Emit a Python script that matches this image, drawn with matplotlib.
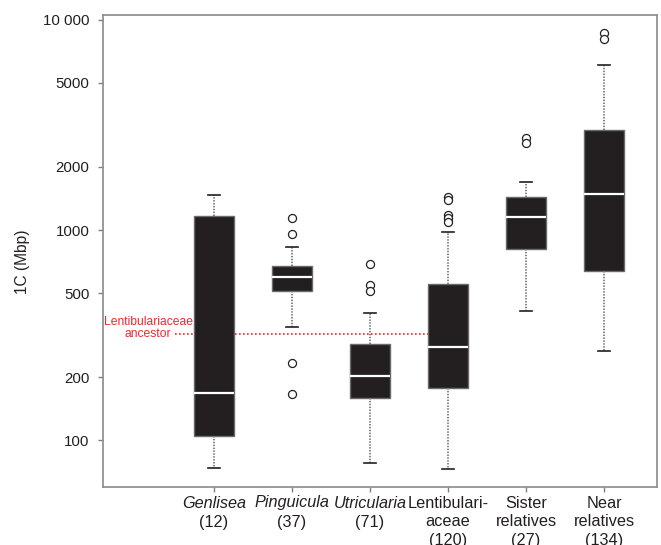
import matplotlib
matplotlib.use("Agg")
import matplotlib.pyplot as plt
from matplotlib.transforms import blended_transform_factory

plt.rcParams['font.family'] = ['Liberation Sans', 'DejaVu Sans']

# ---- data (Mbp) ----
categories = ["Genlisea", "Pinguicula", "Utricularia", "Lentibulariaceae", "Sister relatives", "Near relatives"]
counts = [12, 37, 71, 120, 27, 134]
whisker_low = [74, 345, 78, 73, 413, 267]
q1 = [105, 515, 160, 177, 815, 638]
medians = [168, 596, 202, 279, 1149, 1488]
q3 = [1166, 677, 287, 552, 1440, 2986]
whisker_high = [1466, 828, 402, 975, 1686, 6084]
outliers = [
    [],
    [1136, 954, 233, 167],
    [687, 548, 513],
    [1439, 1389, 1178, 1136, 1095],
    [2728, 2582],
    [8610, 8060],
]
ancestor_value = 319
yticks = [100, 200, 500, 1000, 2000, 5000, 10000]
ytick_labels = ["100", "200", "500", "1000", "2000", "5000", "10 000"]
label_lines = [
    ["Genlisea", "(12)"],
    ["Pinguicula", "(37)"],
    ["Utricularia", "(71)"],
    ["Lentibulari-", "aceae", "(120)"],
    ["Sister", "relatives", "(27)"],
    ["Near", "relatives", "(134)"],
]
italic_first = [True, True, True, False, False, False]

W, H = 661, 545
fig = plt.figure(figsize=(W / 100, H / 100), dpi=100)
ax_left, ax_right, ax_top, ax_bot = 102.7, 657, 15, 486.7
ax = fig.add_axes([ax_left / W, 1 - ax_bot / H, (ax_right - ax_left) / W, (ax_bot - ax_top) / H])

positions = list(range(1, len(categories) + 1))
stats = []
for i in range(len(categories)):
    stats.append(dict(med=medians[i], q1=q1[i], q3=q3[i], whislo=whisker_low[i],
                      whishi=whisker_high[i], fliers=outliers[i], label=categories[i]))

ax.bxp(stats, positions=positions, widths=0.51, patch_artist=True, showfliers=True,
       boxprops=dict(facecolor="#231f20", edgecolor="#6a6a6a", linewidth=1.0),
       medianprops=dict(color="white", linewidth=1.6),
       whiskerprops=dict(color="#7a7a7a", linewidth=1.3, linestyle=(0, (0.8, 0.8))),
       capprops=dict(color="#231f20", linewidth=1.2),
       capwidths=0.16,
       flierprops=dict(marker="o", markerfacecolor="white", markeredgecolor="#231f20",
                       markersize=5.8, markeredgewidth=0.9),
       zorder=3)

# ancestor line (drawn beneath boxes)
ax.plot([0.5, 4.0], [ancestor_value, ancestor_value], color="#ee2a2a",
        linewidth=1.2, linestyle=(0, (1, 1.4)), zorder=1)

ax.set_yscale("log")
ax.set_ylim(60.3, 10520)
ax.set_xlim(-0.427, 6.68)
ax.set_yticks(yticks)
ax.set_yticklabels(ytick_labels)
ax.yaxis.set_minor_locator(matplotlib.ticker.NullLocator())
ax.set_xticks(positions)
ax.set_xticklabels([])
ax.tick_params(axis="both", direction="out", length=3.5, width=1.0, color="#808080",
               labelsize=10.8, labelcolor="#231f20")
ax.tick_params(axis="y", pad=6)
for s in ax.spines.values():
    s.set_color("#8a8a8a")
    s.set_linewidth(1.2)

# x labels
trans = blended_transform_factory(ax.transData, ax.transAxes)
line_y_px = [503, 522, 541]
for x, lines, it in zip(positions, label_lines, italic_first):
    for j, txt in enumerate(lines):
        yfrac = (ax_bot - line_y_px[j]) / (ax_bot - ax_top)
        ax.text(x, yfrac, txt, transform=trans, ha="center", va="center", fontsize=11.7,
                color="#231f20", style="italic" if (j == 0 and it) else "normal", clip_on=False)

# ancestor label
fig.text(192.7 / W, 1 - 321.7 / H, "Lentibulariaceae", ha="right", va="center",
         fontsize=8.7, color="#ee2a2a")
fig.text(171 / W, 1 - 334.3 / H, "ancestor", ha="right", va="center",
         fontsize=8.7, color="#ee2a2a")

# y label
fig.text(22 / W, 1 - 262 / H, "1C (Mbp)", rotation=90, ha="center", va="center",
         fontsize=11.2, color="#231f20")

fig.savefig("out.png", dpi=100)
